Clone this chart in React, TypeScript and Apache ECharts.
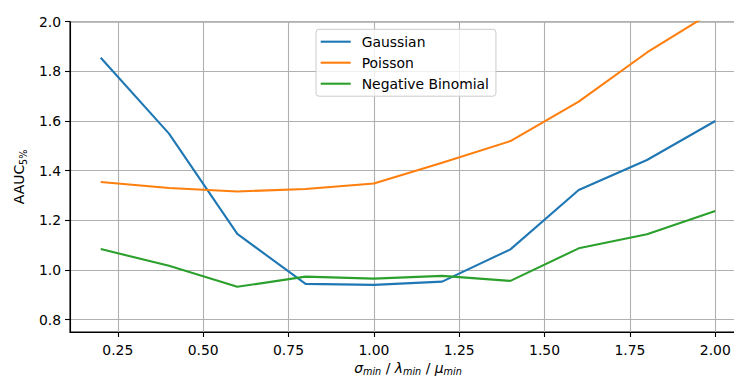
import React, { useEffect, useRef } from "react";
import * as echarts from "echarts";

const xValues = [0.2, 0.4, 0.6, 0.8, 1.0, 1.2, 1.4, 1.6, 1.8, 2.0];
const gaussian = [1.855, 1.549, 1.145, 0.944, 0.94, 0.953, 1.083, 1.322, 1.443, 1.6];
const poisson = [1.354, 1.33, 1.316, 1.326, 1.348, 1.432, 1.519, 1.678, 1.876, 2.046];
const negBinomial = [1.084, 1.017, 0.932, 0.973, 0.965, 0.976, 0.956, 1.087, 1.144, 1.237];
const seriesNames = ["Gaussian", "Poisson", "Negative Binomial"];
const colors = ["#1f77b4", "#ff7f0e", "#2ca02c"];
const xTicks = [0.25, 0.5, 0.75, 1.0, 1.25, 1.5, 1.75, 2.0];
const yTicks = [0.8, 1.0, 1.2, 1.4, 1.6, 1.8, 2.0];

const FONT = "DejaVu Sans";
const FS = 13.9;

export default function App() {
  const ref = useRef<HTMLDivElement>(null);
  useEffect(() => {
    if (!ref.current) return;
    const chart = echarts.init(ref.current, undefined, { renderer: "svg" });
    const allSeries = [gaussian, poisson, negBinomial];
    chart.setOption({
      animation: false,
      backgroundColor: "#ffffff",
      textStyle: { fontFamily: FONT, fontSize: FS, color: "#000" },
      grid: {
        left: 70,
        top: 21.7,
        bottom: 44,
        right: -12,
        show: true,
        borderColor: "#000",
        borderWidth: 1.1,
        outerBoundsMode: "none",
        containLabel: false,
      },
      legend: {
        orient: "vertical",
        left: 316,
        top: 29.3,
        padding: [5.4, 7, 5.5, 4.7],
        itemWidth: 30,
        itemHeight: 14,
        itemGap: 7,
        icon: "path://M0,0L30,0L30,2.1L0,2.1Z",
        backgroundColor: "rgba(255,255,255,0.8)",
        borderColor: "#cccccc",
        borderWidth: 1,
        borderRadius: 3,
        textStyle: { fontFamily: FONT, fontSize: FS, color: "#000", padding: [0, 0, 0, 6] },
        data: seriesNames,
      },
      xAxis: {
        type: "value",
        min: 0.11,
        max: 2.09,
        name: "{i|σ}{s|min}{n| / }{i|λ}{s|min}{n| / }{i|μ}{s|min}",
        nameLocation: "middle",
        nameGap: 26,
        nameTextStyle: {
          rich: {
            i: { fontFamily: FONT, fontStyle: "italic", fontSize: FS, color: "#000", lineHeight: 16, verticalAlign: "middle" },
            n: { fontFamily: FONT, fontSize: FS, color: "#000", lineHeight: 16, verticalAlign: "middle" },
            s: { fontFamily: FONT, fontStyle: "italic", fontSize: 9.7, color: "#000", lineHeight: 16, verticalAlign: "bottom" },
          },
        },
        axisLine: { show: true, onZero: false, lineStyle: { color: "#000", width: 1.1 } },
        axisTick: { show: true, customValues: xTicks, length: 5, lineStyle: { color: "#000", width: 1.1 } },
        axisLabel: {
          customValues: xTicks,
          margin: 10.5,
          fontFamily: FONT,
          fontSize: FS,
          color: "#000",
          formatter: (v: number) => v.toFixed(2),
        },
        splitLine: { show: true, lineStyle: { color: "#b0b0b0", width: 1.1 } },
      },
      yAxis: {
        type: "value",
        min: 0.75,
        max: 2.0,
        name: "{a|AAUC}{s|5%}",
        nameLocation: "middle",
        nameRotate: 90,
        nameGap: 39,
        nameTextStyle: {
          rich: {
            a: { fontFamily: FONT, fontSize: FS, color: "#000", lineHeight: 18, verticalAlign: "middle" },
            s: { fontFamily: FONT, fontSize: 9.7, color: "#000", lineHeight: 18, verticalAlign: "bottom" },
          },
        },
        axisLine: { show: true, onZero: false, lineStyle: { color: "#000", width: 1.1 } },
        axisTick: { show: true, customValues: yTicks, length: 5, lineStyle: { color: "#000", width: 1.1 } },
        axisLabel: {
          customValues: yTicks,
          margin: 9,
          fontFamily: FONT,
          fontSize: FS,
          color: "#000",
          formatter: (v: number) => v.toFixed(1),
        },
        splitLine: { show: true, lineStyle: { color: "#b0b0b0", width: 1.1 } },
      },
      series: allSeries.map((vals, i) => ({
        name: seriesNames[i],
        type: "line",
        symbol: "none",
        clip: true,
        color: colors[i],
        itemStyle: { color: colors[i] },
        lineStyle: { color: colors[i], width: 2.1 },
        data: xValues.map((x, j) => [x, vals[j]]),
      })),
    });
    return () => chart.dispose();
  }, []);
  return (
    <div
      ref={ref}
      style={{ position: "fixed", left: 0, top: 0, width: 734, height: 376 }}
    />
  );
}
